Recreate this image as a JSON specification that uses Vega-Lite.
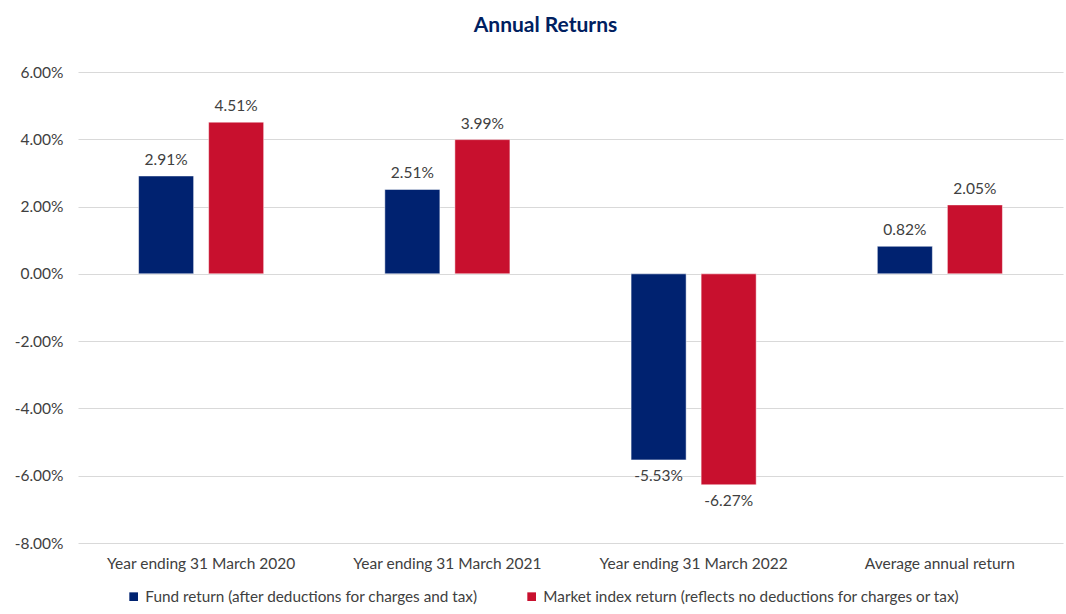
{
  "$schema": "https://vega.github.io/schema/vega-lite/v6.json",
  "autosize": {"type": "none"},
  "padding": {"left": 78, "top": 72, "right": 3, "bottom": 71},
  "width": 985,
  "height": 471,
  "background": "white",
  "title": {
    "text": "Annual Returns",
    "font": "Lato",
    "fontSize": 21,
    "fontWeight": "bold",
    "color": "#002060",
    "anchor": "middle",
    "dx": -25,
    "offset": 29
  },
  "config": {
    "view": {"stroke": null},
    "font": "Lato",
    "locale": {
      "number": {"decimal": ".", "thousands": ",", "grouping": [3], "currency": ["$", ""], "minus": "-"}
    }
  },
  "data": {
    "values": [
      {"category": "Year ending 31 March 2020", "series": "Fund return (after deductions for charges and tax)", "value": 0.0291},
      {"category": "Year ending 31 March 2020", "series": "Market index return (reflects no deductions for charges or tax)", "value": 0.0451},
      {"category": "Year ending 31 March 2021", "series": "Fund return (after deductions for charges and tax)", "value": 0.0251},
      {"category": "Year ending 31 March 2021", "series": "Market index return (reflects no deductions for charges or tax)", "value": 0.0399},
      {"category": "Year ending 31 March 2022", "series": "Fund return (after deductions for charges and tax)", "value": -0.0553},
      {"category": "Year ending 31 March 2022", "series": "Market index return (reflects no deductions for charges or tax)", "value": -0.0627},
      {"category": "Average annual return", "series": "Fund return (after deductions for charges and tax)", "value": 0.0082},
      {"category": "Average annual return", "series": "Market index return (reflects no deductions for charges or tax)", "value": 0.0205}
    ]
  },
  "encoding": {
    "x": {
      "field": "category",
      "type": "nominal",
      "sort": null,
      "scale": {"paddingInner": 0.492, "paddingOuter": 0.246},
      "axis": {
        "title": null,
        "labelAngle": 0,
        "labelFontSize": 15.5,
        "labelColor": "#404040",
        "labelPadding": 13,
        "domain": false,
        "ticks": false,
        "labelLimit": 0
      }
    },
    "xOffset": {
      "field": "series",
      "type": "nominal",
      "sort": null,
      "scale": {"paddingInner": 0.214, "paddingOuter": 0}
    },
    "y": {
      "field": "value",
      "type": "quantitative",
      "scale": {"domain": [-0.08, 0.06], "nice": false, "zero": false},
      "axis": {
        "title": null,
        "format": ".2%",
        "values": [-0.08, -0.06, -0.04, -0.02, 0, 0.02, 0.04, 0.06],
        "labelFontSize": 15.5,
        "labelColor": "#404040",
        "labelPadding": 15,
        "domain": false,
        "ticks": false,
        "gridColor": "#d9d9d9",
        "gridWidth": 1
      }
    }
  },
  "layer": [
    {
      "mark": {"type": "bar", "stroke": "white", "strokeWidth": 0.5},
      "encoding": {
        "y2": {"datum": 0},
        "color": {
          "field": "series",
          "type": "nominal",
          "sort": null,
          "scale": {"range": ["#002270", "#C8102E"]},
          "legend": {
            "title": null,
            "orient": "none",
            "legendX": 48,
            "legendY": 517,
            "direction": "horizontal",
            "symbolType": "square",
            "symbolSize": 75,
            "symbolStrokeWidth": 0,
            "labelFontSize": 15.3,
            "labelColor": "#404040",
            "labelLimit": 0,
            "labelOffset": 4,
            "columnPadding": 46
          }
        }
      }
    },
    {
      "transform": [{"filter": "datum.value >= 0"}],
      "mark": {"type": "text", "baseline": "bottom", "dy": -8, "fontSize": 15.5, "color": "#404040"},
      "encoding": {"text": {"field": "value", "type": "quantitative", "format": ".2%"}}
    },
    {
      "transform": [{"filter": "datum.value < 0"}],
      "mark": {"type": "text", "baseline": "top", "dy": 9, "fontSize": 15.5, "color": "#404040"},
      "encoding": {"text": {"field": "value", "type": "quantitative", "format": ".2%"}}
    }
  ]
}
